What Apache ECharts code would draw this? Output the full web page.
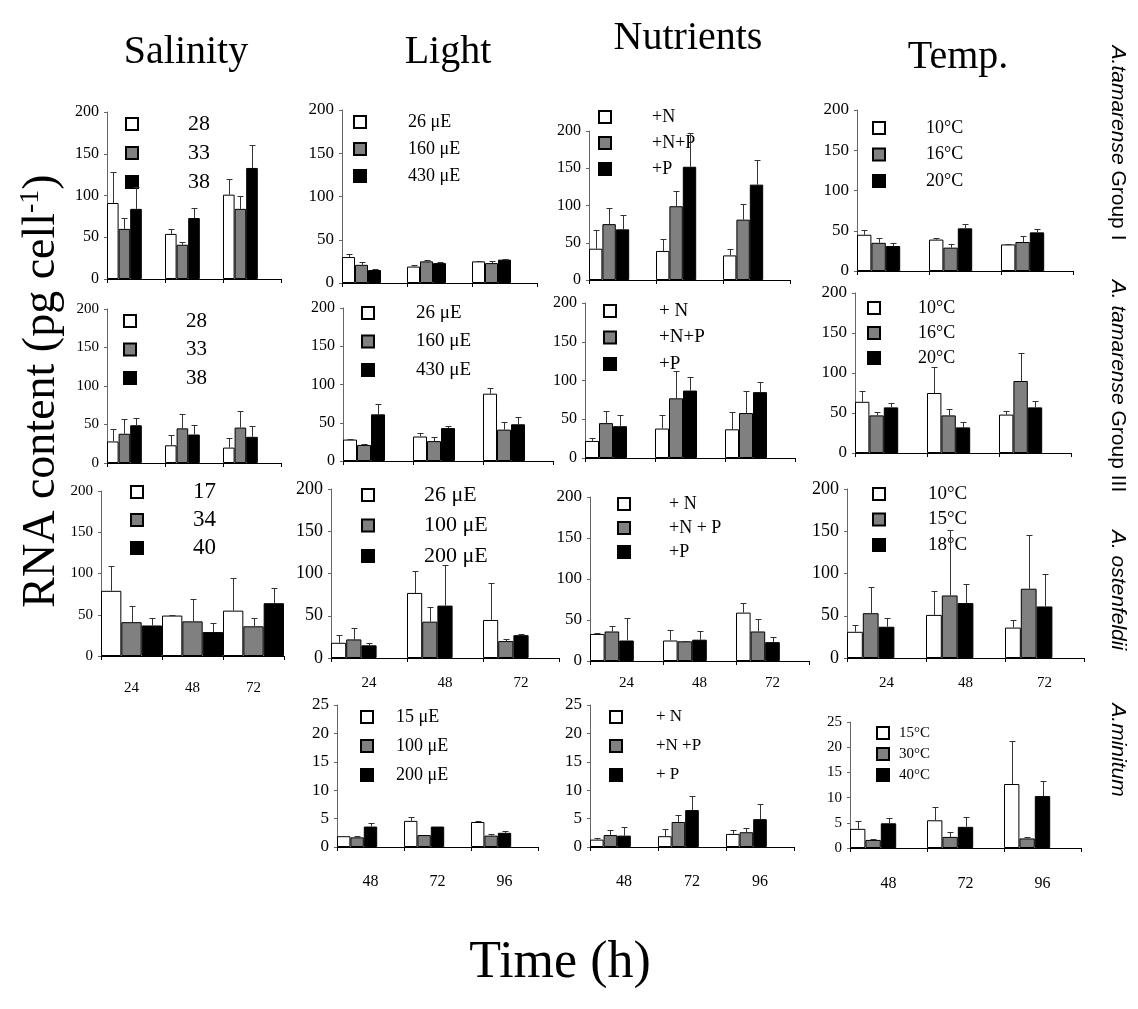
<!DOCTYPE html>
<html><head><meta charset="utf-8">
<script src="https://cdn.jsdelivr.net/npm/echarts@6/dist/echarts.min.js"></script>
<style>html,body{margin:0;padding:0;background:#fff}#c{width:1138px;height:1009px}</style>
</head><body><div id="c"></div>
<script>
// ---------- DATA ----------
const timesA = ['24', '48', '72'];
const timesB = ['48', '72', '96'];

// Row 1: A. tamarense Group I
const sal1Names = ['28', '33', '38'];
const sal1Mean = [[91, 54, 101], [60, 41, 84], [84, 73, 133]];
const sal1Upper = [[128, 60, 120], [73, 44, 99], [110, 85, 161]];

const light1Names = ['26 μE', '160 μE', '430 μE'];
const light1Mean = [[30, 19, 25], [21, 25, 23], [15, 23, 27]];
const light1Upper = [[34, 21, 26], [24, 27, 26], [16, 24, 28]];

const nut1Names = ['+N', '+N+P', '+P'];
const nut1Mean = [[42, 39, 33], [75, 99, 81], [68, 152, 128]];
const nut1Upper = [[67, 55, 42], [96, 119, 102], [87, 197, 161]];

const temp1Names = ['10°C', '16°C', '20°C'];
const temp1Mean = [[45, 39, 33], [35, 29, 36], [31, 53, 48]];
const temp1Upper = [[51, 41, 34], [41, 33, 43], [35, 59, 52]];

// Row 2: A. tamarense Group III
const sal2Names = ['28', '33', '38'];
const sal2Mean = [[28, 23, 20], [38, 45, 46], [49, 37, 34]];
const sal2Upper = [[44, 37, 32], [57, 64, 68], [59, 50, 48]];

const light2Names = ['26 μE', '160 μE', '430 μE'];
const light2Mean = [[28, 32, 88], [21, 26, 41], [61, 43, 48]];
const light2Upper = [[29, 36, 96], [22, 31, 51], [74, 46, 58]];

const nut2Names = ['+ N', '+N+P', '+P'];
const nut2Mean = [[22, 38, 37], [45, 77, 58], [41, 87, 85]];
const nut2Upper = [[26, 56, 59], [61, 112, 87], [55, 104, 98]];

const temp2Names = ['10°C', '16°C', '20°C'];
const temp2Mean = [[64, 75, 48], [47, 47, 90], [57, 32, 57]];
const temp2Upper = [[77, 108, 53], [51, 55, 125], [62, 39, 65]];

// Row 3: A. ostenfeldii
const sal3Names = ['17', '34', '40'];
const sal3Mean = [[79, 49, 55], [41, 42, 36], [37, 29, 64]];
const sal3Upper = [[109, 50, 94], [61, 69, 46], [46, 40, 83]];

const light3Names = ['26 μE', '100 μE', '200 μE'];
const light3Mean = [[18, 77, 45], [22, 43, 20], [15, 62, 27]];
const light3Upper = [[27, 103, 89], [36, 60, 22], [18, 110, 28]];

const nut3Names = ['+ N', '+N + P', '+P'];
const nut3Mean = [[33, 25, 59], [36, 24, 36], [25, 26, 23]];
const nut3Upper = [[34, 38, 71], [43, 25, 51], [53, 37, 29]];

const temp3Names = ['10°C', '15°C', '18°C'];
const temp3Mean = [[31, 51, 36], [53, 74, 82], [37, 65, 61]];
const temp3Upper = [[39, 79, 45], [84, 151, 146], [47, 88, 100]];

// Row 4: A. minitum
const light4Names = ['15 μE', '100 μE', '200 μE'];
const light4Mean = [[1.9, 4.6, 4.4], [1.7, 2.1, 2.0], [3.6, 3.6, 2.5]];
const light4Upper = [[2.0, 5.2, 4.5], [2.0, 2.1, 2.3], [4.3, 3.6, 2.8]];

const nut4Names = ['+ N', '+N +P', '+ P'];
const nut4Mean = [[1.3, 1.9, 2.3], [2.1, 4.4, 2.6], [2.0, 6.5, 4.9]];
const nut4Upper = [[1.6, 3.2, 3.0], [3.0, 5.6, 3.4], [3.5, 9.0, 7.5]];

const temp4Names = ['15°C', '30°C', '40°C'];
const temp4Mean = [[3.8, 5.5, 12.7], [1.6, 2.2, 1.9], [4.9, 4.2, 10.3]];
const temp4Upper = [[5.3, 8.1, 21.2], [1.8, 3.1, 2.1], [6.0, 6.1, 13.2]];

const columnTitles = ['Salinity', 'Light', 'Nutrients', 'Temp.'];
const yTitle = 'RNA content (pg cell';
const xTitle = 'Time (h)';

// ---------- LAYOUT ----------
const SERIF = "'Liberation Serif','Times New Roman',serif";
const SANS = "'Liberation Sans',Arial,sans-serif";
const fills = ['#ffffff', '#808080', '#000000'];

// lg: [markerLeft, firstCenterY, spacing, textGap, fontSize]
const panels = [
  {cats: timesA, names: sal1Names, mean: sal1Mean, up: sal1Upper, left: 107, top: 112, y0: 279, C: 58, N: 5, max: 200, step: 50, tf: 16, lg: [125, 124, 29, 50, 22]},
  {cats: timesA, names: light1Names, mean: light1Mean, up: light1Upper, left: 342, top: 110, y0: 283, C: 65, N: 5, max: 200, step: 50, tf: 17, lg: [353, 122, 27, 42, 18]},
  {cats: timesA, names: nut1Names, mean: nut1Mean, up: nut1Upper, left: 589, top: 131, y0: 280, C: 67, N: 5, max: 200, step: 50, tf: 16, lg: [598, 117, 26, 41, 18]},
  {cats: timesA, names: temp1Names, mean: temp1Mean, up: temp1Upper, left: 857, top: 110, y0: 271, C: 72, N: 5, max: 200, step: 50, tf: 17, lg: [872, 128, 26.5, 41, 18]},

  {cats: timesA, names: sal2Names, mean: sal2Mean, up: sal2Upper, left: 107, top: 309, y0: 463, C: 58, N: 5, max: 200, step: 50, tf: 15, lg: [123, 321, 28.5, 50, 21]},
  {cats: timesA, names: light2Names, mean: light2Mean, up: light2Upper, left: 343, top: 308, y0: 461, C: 70, N: 5, max: 200, step: 50, tf: 16, lg: [361, 313, 28.5, 42, 19]},
  {cats: timesA, names: nut2Names, mean: nut2Mean, up: nut2Upper, left: 585, top: 303, y0: 458, C: 70, N: 5, max: 200, step: 50, tf: 16, lg: [603, 311, 26.5, 43, 19]},
  {cats: timesA, names: temp2Names, mean: temp2Mean, up: temp2Upper, left: 855, top: 293, y0: 453, C: 72, N: 5, max: 200, step: 50, tf: 17, lg: [867, 308, 25, 38, 18]},

  {cats: timesA, names: sal3Names, mean: sal3Mean, up: sal3Upper, left: 101, top: 491, y0: 656, C: 61, N: 3, max: 200, step: 50, tf: 15, lg: [130, 492, 28, 50, 23], xl: 25, xf: 15},
  {cats: timesA, names: light3Names, mean: light3Mean, up: light3Upper, left: 331, top: 489, y0: 658, C: 76, N: 5, max: 200, step: 50, tf: 18, lg: [361, 495, 30.5, 50, 22], xl: 18, xf: 15},
  {cats: timesA, names: nut3Names, mean: nut3Mean, up: nut3Upper, left: 590, top: 497, y0: 661, C: 73, N: 5, max: 200, step: 50, tf: 17, lg: [617, 504, 24, 39, 18], xl: 15, xf: 15},
  {cats: timesA, names: temp3Names, mean: temp3Mean, up: temp3Upper, left: 847, top: 489, y0: 658, C: 79, N: 5, max: 200, step: 50, tf: 18, lg: [872, 494, 25.5, 43, 19], xl: 18, xf: 15},

  {cats: timesB, names: light4Names, mean: light4Mean, up: light4Upper, left: 337, top: 705, y0: 847, C: 67, N: 5, max: 25, step: 5, tf: 17, lg: [360, 717, 29, 23, 18], xl: 27, xf: 16},
  {cats: timesB, names: nut4Names, mean: nut4Mean, up: nut4Upper, left: 590, top: 705, y0: 847, C: 68, N: 5, max: 25, step: 5, tf: 17, lg: [609, 717, 29, 34, 17], xl: 27, xf: 16},
  {cats: timesB, names: temp4Names, mean: temp4Mean, up: temp4Upper, left: 850, top: 722, y0: 848, C: 77, N: 5, max: 25, step: 5, tf: 15, lg: [876, 733, 21, 10, 15], xl: 28, xf: 16}
];

const grid = [], xAxis = [], yAxis = [], legend = [], series = [];
const SEP = '::';

panels.forEach((p, gi) => {
  grid.push({left: p.left, top: p.top, width: p.C * 3, height: p.y0 - p.top, containLabel: false, outerBoundsMode: 'none'});
  xAxis.push({
    type: 'category', gridIndex: gi, data: p.cats, boundaryGap: true,
    axisLine: {show: true, lineStyle: {color: '#000', width: 1}},
    axisTick: {show: true, length: 4, lineStyle: {color: '#000'}},
    axisLabel: {show: !!p.xl, margin: p.xl || 8, fontSize: p.xf || 15, fontFamily: SERIF, color: '#000'},
    splitLine: {show: false}
  });
  yAxis.push({
    type: 'value', gridIndex: gi, min: 0, max: p.max, interval: p.step,
    axisLine: {show: true, lineStyle: {color: '#666', width: 1}},
    axisTick: {show: true, length: 3, lineStyle: {color: '#666'}},
    axisLabel: {fontSize: p.tf, fontFamily: SERIF, color: '#000', margin: 8},
    splitLine: {show: false}
  });
  const ids = p.names.map(n => gi + SEP + n);
  const [lx, ly, sp, gap, fs] = p.lg;
  legend.push({
    orient: 'vertical', left: lx, top: ly - fs / 2, padding: 0, itemWidth: 12, itemHeight: 12,
    itemGap: sp - fs, selectedMode: false, icon: 'rect', data: ids,
    formatter: name => name.split(SEP)[1],
    textStyle: {fontSize: fs, fontFamily: SERIF, color: '#000', lineHeight: fs, padding: [0, 0, 0, gap - 5]}
  });
  for (let s = 0; s < 3; s++) {
    series.push({
      type: 'bar', name: ids[s], xAxisIndex: gi, yAxisIndex: gi, data: p.mean[s],
      barGap: '0%', barCategoryGap: '0%', silent: true,
      itemStyle: {color: fills[s], borderColor: '#000', borderWidth: 1}
    });
  }
  for (let k = 3; k < p.N; k++) {
    series.push({
      type: 'bar', name: '_sp' + gi + '_' + k, xAxisIndex: gi, yAxisIndex: gi, data: [null, null, null],
      barGap: '0%', barCategoryGap: '0%', silent: true, itemStyle: {color: 'rgba(0,0,0,0)'}
    });
  }
  const errData = [];
  for (let s = 0; s < 3; s++) for (let c = 0; c < 3; c++) errData.push([c, s, p.mean[s][c], p.up[s][c]]);
  const N = p.N;
  series.push({
    type: 'custom', name: '_err' + gi, xAxisIndex: gi, yAxisIndex: gi, data: errData, silent: true, z: 5,
    encode: {x: 0, y: [2, 3]},
    renderItem: function (params, api) {
      const cat = api.value(0), slot = api.value(1), v = api.value(2), u = api.value(3);
      if (!(u > v)) return null;
      const a = api.coord([cat, v]), b = api.coord([cat, u]);
      const C = api.size([1, 0])[0];
      const x = Math.round(a[0] - C / 2 + (slot + 0.5) * C / N) + 0.5;
      const y2 = Math.round(b[1]) + 0.5;
      return {type: 'group', children: [
        {type: 'line', shape: {x1: x, y1: a[1], x2: x, y2: y2}, style: {stroke: '#333', lineWidth: 1}},
        {type: 'line', shape: {x1: x - 3, y1: y2, x2: x + 3, y2: y2}, style: {stroke: '#333', lineWidth: 1}}
      ]};
    }
  });
});

function txt(text, x, y, size) {
  return {type: 'text', x: x, y: y, style: {text: text, fontSize: size, fontFamily: SERIF, fill: '#000', align: 'center', verticalAlign: 'middle', textAlign: 'center', textVerticalAlign: 'middle'}};
}
function sideLabel(species, rest, y) {
  return {type: 'text', x: 1118, y: y, rotation: -Math.PI / 2, style: {
    text: '{i|' + species + '}{n|' + rest + '}', align: 'center', verticalAlign: 'middle', textAlign: 'center', textVerticalAlign: 'middle',
    rich: {i: {fontSize: 21, fontStyle: 'italic', fontFamily: SANS, fill: '#000'}, n: {fontSize: 21, fontFamily: SANS, fill: '#000'}}
  }};
}

const graphic = [
  txt(columnTitles[0], 186, 52, 40),
  txt(columnTitles[1], 448, 52, 40),
  txt(columnTitles[2], 688, 38, 40),
  txt(columnTitles[3], 958, 57, 40),
  txt(xTitle, 560, 963, 52),
  {type: 'text', x: 42, y: 391, rotation: Math.PI / 2, style: {
    text: '{a|' + yTitle + '}{s|-1}{a|)}', align: 'center', verticalAlign: 'middle', textAlign: 'center', textVerticalAlign: 'middle',
    rich: {a: {fontSize: 46, fontFamily: SERIF, fill: '#000', lineHeight: 50}, s: {fontSize: 28, fontFamily: SERIF, fill: '#000', verticalAlign: 'top', lineHeight: 50, padding: [0, 0, 22, 0]}}
  }},
  sideLabel('A.tamarense', ' Group I', 143),
  sideLabel('A. tamarense', ' Group III', 386),
  sideLabel('A. ostenfeldii', '', 590),
  sideLabel('A.minitum', '', 750)
];

const chart = echarts.init(document.getElementById('c'), null, {renderer: 'canvas'});
chart.setOption({animation: false, backgroundColor: '#fff', grid, xAxis, yAxis, legend, series, graphic});
</script></body></html>
